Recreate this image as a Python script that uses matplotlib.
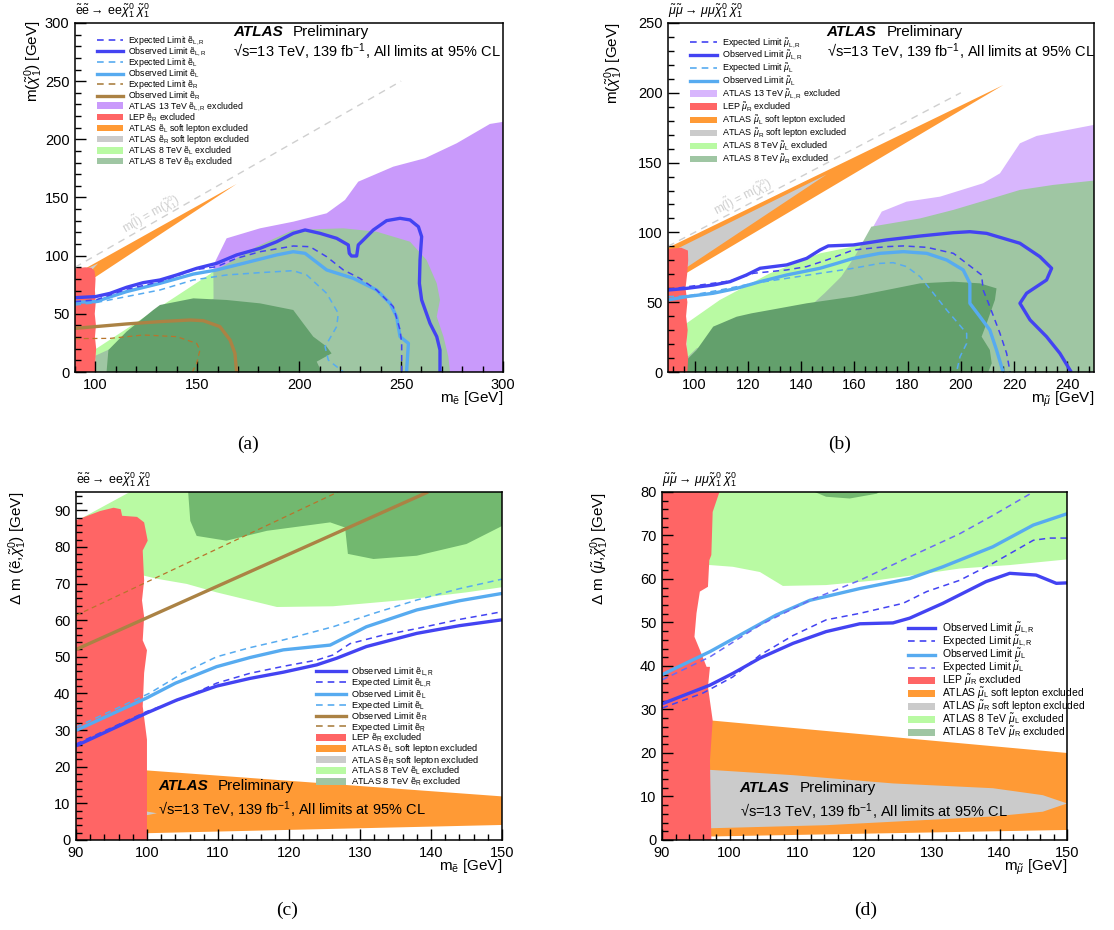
import matplotlib.pyplot as plt
from matplotlib.lines import Line2D
from matplotlib.patches import Patch
from matplotlib.ticker import MultipleLocator

plt.rcParams['font.family'] = ['Liberation Sans', 'DejaVu Sans']
plt.rcParams['mathtext.fontset'] = 'custom'
plt.rcParams['mathtext.rm'] = 'Liberation Sans'
plt.rcParams['mathtext.it'] = 'Liberation Sans:italic'
plt.rcParams['mathtext.bf'] = 'Liberation Sans:bold'

# colours
PURPLE_E = '#c99afb'
PURPLE_MU = '#d8b6fd'
RED = '#ff6565'
ORANGE = '#ff9a35'
GREY = '#cbcbcb'
LGREEN = '#b9faa3'
SAGE = '#9fc6a3'
DGREEN = '#63a06c'
DGREEN_C = '#72b86f'
BLUE = '#4343f2'
LBLUE = '#57abf0'
BLUE_EXP_L = '#6a6af5'
BROWN = '#ab8244'
BROWN_EXP = '#b8742c'
DIAG = '#cfcfcf'

# ---------------- (a) selectrons, m(chi) vs m(e) ----------------
a_diag = [90, 250]
a_red_x = [90, 100.2, 100.0, 100.4, 99.8, 100.3, 99.7, 100.2, 99.8, 100.1, 99.6, 98, 95, 92, 90]
a_red_y = [0, 0, 10, 20, 30, 40, 50, 60, 70, 80, 87, 89.5, 90, 89.5, 89]
a_orange_x = [90, 169.3, 90]
a_orange_y = [70, 161.6, 84]
a_grey_x = [90, 101.4, 90]
a_grey_y = [72, 93.4, 84]
a_purple_x = [158, 158, 164.4, 180.8, 197.1, 213.5, 222.5, 229.0, 246.2, 261.7, 277.3, 293.6, 300, 300]
a_purple_y = [0, 92, 114.9, 123.5, 129.2, 136.4, 147.9, 163.6, 176.5, 183.7, 196.6, 213.2, 215, 0]
a_lgreen_x = [100, 100, 156.3, 158, 175, 200, 210]
a_lgreen_y = [0, 19.5, 84.2, 87, 80, 50, 0]
a_sage_x = [100, 100, 120, 158, 157.9, 179.1, 197.1, 221.7, 238.0, 254.4, 262.5, 267.5, 269.1, 267.5, 270.8, 273.2, 274.0]
a_sage_y = [0, 14, 30, 63, 86.2, 107.7, 122.1, 123.5, 120.6, 112.0, 96.3, 76.2, 61.9, 47.6, 30.4, 13.2, 0]
a_dgreen_x = [105.5, 106.4, 115.3, 128.4, 131.7, 148.1, 164.4, 180.8, 197.1, 202.0, 206.9, 213.5, 215.9, 208.6, 211.0]
a_dgreen_y = [0, 18.9, 34.7, 53.3, 57.6, 63.3, 61.9, 59.0, 53.3, 41.8, 30.4, 21.8, 16.0, 8.9, 0]

a_obs_lr_x = [90, 100.1, 107.2, 115.3, 123.5, 131.7, 139.9, 149.7, 159.5, 169.3, 180.8, 189.0, 197.1, 202.9,
              210.2, 218.4, 224.1, 224.6, 225.7, 228.2, 229.0, 231.5, 236.4, 242.9, 249.5, 254.4, 258.5,
              260.1, 259.3, 259.0, 260.1, 264.2, 267.5, 269.1, 269.1]
a_obs_lr_y = [63.9, 64.8, 67.6, 72.8, 76.8, 79.1, 83.4, 89.1, 93.4, 100.6, 106.3, 112.0, 119.2, 122.1,
              119.2, 114.9, 109.2, 102.0, 99.7, 99.7, 109.2, 113.5, 122.1, 130.1, 132.1, 130.7, 124.9,
              116.3, 96.3, 76.2, 61.9, 41.8, 30.4, 18.9, 0]
a_exp_lr_x = [90, 100.1, 115.3, 131.7, 148.1, 159.5, 169.3, 180.8, 197.1, 205.3, 213.5, 221.7, 229.8,
              238.0, 246.2, 249.5, 250.3, 250.3]
a_exp_lr_y = [60.5, 61.9, 71.1, 77.6, 87.7, 90.5, 97.7, 103.4, 108.3, 107.7, 99.1, 87.7, 80.5,
              70.5, 56.2, 36.1, 24.6, 0]
a_obs_l_x = [90, 100.1, 115.3, 131.7, 148.1, 159.5, 172.6, 188.9, 197.1, 202.9, 213.5, 226.6, 238.0,
             244.6, 247.8, 249.5, 253.6, 252.7]
a_obs_l_y = [59.9, 60.5, 69.1, 76.2, 84.2, 87.7, 93.4, 100.6, 103.4, 102.0, 87.7, 80.5, 70.5,
             59.0, 47.6, 30.4, 24.6, 0]
a_exp_l_x = [90, 100.1, 115.3, 131.7, 148.1, 164.4, 180.8, 197.1, 203.7, 213.5, 219.2, 218.4, 212.7, 214.3, 221.7]
a_exp_l_y = [57.6, 59.6, 64.8, 70.5, 79.1, 83.4, 85.4, 87.1, 83.4, 67.6, 50.4, 39.0, 21.8, 10.3, 0]
a_obs_r_x = [90, 115.3, 131.7, 146.4, 153.0, 161.1, 166.1, 168.5, 169.3]
a_obs_r_y = [37.5, 41.3, 43.3, 44.7, 44.1, 39.0, 27.5, 16.0, 0]
a_exp_r_x = [90, 107.2, 123.5, 139.9, 149.7, 151.3, 149.7, 147.6]
a_exp_r_y = [28.7, 28.9, 31.8, 30.4, 24.6, 18.9, 7.4, 0]

# ---------------- (b) smuons, m(chi) vs m(mu) ----------------
b_diag = [90, 200]
b_red_x = [90, 97.3, 97.6, 96.9, 97.4, 96.8, 97.3, 96.6, 97.2, 97.6, 97.5, 95, 92, 90]
b_red_y = [0, 0, 10, 20, 30, 40, 50, 60, 70, 80, 87, 89, 88.5, 88]
b_orange_x = [90, 216, 90]
b_orange_y = [63, 205.6, 89]
b_grey_x = [90, 149.6, 90]
b_grey_y = [66, 141.5, 85]
b_purple_x = [164, 164.6, 167.1, 170.3, 179.6, 192.2, 208.4, 214.7, 217.2, 222.2, 228.5, 250, 250, 175]
b_purple_y = [90, 94.6, 104.1, 114.9, 122.0, 125.6, 135.2, 142.3, 149.5, 163.8, 169.1, 177, 0, 0]
b_lgreen_x = [97, 97, 109.5, 128.3, 147.1, 159.6, 165, 190, 215]
b_lgreen_y = [0, 34.9, 51.6, 70.7, 85.0, 89.8, 94, 60, 0]
b_sage_x = [97, 97, 100.8, 120, 142.6, 148.8, 155.1, 160.1, 166.4, 184.7, 197.2, 209.7, 222.2, 234.7, 250, 250]
b_sage_y = [0, 10, 17, 28, 45.6, 56.4, 68.3, 82.6, 104.1, 110.0, 116.1, 123.2, 130.4, 134.0, 137.1, 0]
b_dgreen_x = [97, 97, 100.8, 107.0, 110.0, 115.8, 121.3, 128.3, 142.1, 159.6, 172.1, 184.7, 197.2, 207.2,
              213.4, 212.8, 209.7, 207.8, 210.9, 211.6, 210.3]
b_dgreen_y = [0, 8.6, 15.8, 32.5, 34.9, 39.6, 42.0, 44.4, 49.2, 54.0, 58.7, 63.5, 64.7, 63.5,
              59.9, 51.6, 34.9, 25.3, 15.8, 6.2, 0]

b_obs_lr_x = [90, 97.0, 107.0, 113.3, 119.5, 124.6, 129.6, 134.6, 142.1, 147.1, 150.2, 159.6, 172.1, 184.7,
              197.2, 203.4, 209.7, 222.2, 229.7, 234.1, 232.2, 224.7, 222.2, 226.0, 232.2, 237.2, 241.0, 241.5]
b_obs_lr_y = [58.7, 59.9, 62.3, 64.7, 69.5, 74.3, 75.5, 76.7, 81.4, 87.4, 90.3, 91.0, 94.6, 97.4,
              99.8, 100.5, 99.3, 92.2, 82.6, 74.3, 65.9, 56.4, 49.2, 37.3, 25.3, 13.4, 1.4, 0]
b_exp_lr_x = [90, 113.3, 122.1, 134.6, 142.1, 149.6, 159.6, 172.1, 178.4, 187.2, 197.2, 202.2, 207.8,
              208.4, 210.9, 214.7, 217.2, 218.5]
b_exp_lr_y = [59.2, 65.2, 70.7, 73.1, 75.5, 80.2, 87.4, 89.8, 90.3, 89.3, 85.0, 77.8, 69.5,
              58.7, 46.8, 27.7, 13.4, 0]
b_obs_l_x = [90, 97.0, 107.0, 115.8, 124.6, 134.6, 147.1, 153.4, 159.6, 169.6, 178.4, 187.2, 194.7,
             200.9, 203.4, 203.4, 207.2, 210.9, 213.4, 215.9]
b_obs_l_y = [51.6, 54.0, 56.4, 59.9, 64.7, 69.5, 74.3, 77.8, 81.4, 85.0, 86.2, 85.0, 80.2,
             73.1, 63.5, 49.2, 39.6, 30.1, 15.8, 0]
b_exp_l_x = [90, 97.0, 109.5, 122.1, 134.6, 147.1, 159.6, 169.6, 174.6, 179.6, 184.7, 189.7, 194.7,
             202.2, 202.2, 199.7, 198.4]
b_exp_l_y = [54.0, 54.4, 58.7, 63.5, 67.1, 70.7, 74.3, 77.8, 78.3, 75.5, 68.3, 56.4, 44.4,
             27.7, 20.5, 11.0, 0]

# ---------------- (c) selectrons, delta m vs m(e) ----------------
c_red_x = [90, 100, 100, 100, 99.4, 99.6, 100, 99.4, 99.6, 99.3, 99.6, 99.4, 100.1, 99.6, 98.6, 96.5,
           96.3, 95.3, 93.4, 90]
c_red_y = [0, 0, 18.2, 27.4, 36.5, 45.6, 51.8, 54.5, 60.9, 65.4, 70.8, 79.0, 81.7, 86.7, 88.2, 88.5,
           90.3, 90.7, 89.8, 87.3]
c_orange_x = [90, 150, 150, 90]
c_orange_y = [20.4, 11.9, 4.1, 1.4]
c_grey_x = [90, 101.4, 90]
c_grey_y = [3, 7.3, 11]
c_lgreen_x = [90, 97.6, 150, 150, 145.0, 135.6, 126.2, 118.3, 114.5, 109.8, 105.6, 101.4, 99.5, 90]
c_lgreen_y = [87, 95, 95, 69.0, 67.6, 65.4, 63.8, 63.6, 65.4, 67.6, 69.9, 71.3, 72.2, 72]
c_dgreen_x = [105.8, 106.1, 107.0, 111.2, 116.9, 125.8, 127.9, 128.3, 131.9, 138.0, 145.0, 150, 150]
c_dgreen_y = [95, 87.1, 83.0, 81.7, 84.4, 86.7, 85.3, 78.1, 76.7, 77.6, 80.8, 85.7, 95]

c_obs_lr_x = [90, 100, 104.2, 109.8, 114.5, 119.2, 123.9, 126.7, 130.9, 138, 144, 150]
c_obs_lr_y = [25.7, 34.7, 38.2, 42.0, 44.1, 45.8, 47.8, 49.6, 52.8, 56.4, 58.5, 60.1]
c_exp_lr_x = [90, 100, 105.1, 109.8, 114.5, 119.2, 123.9, 126.2, 128.6, 133, 138, 144, 150]
c_exp_lr_y = [26.2, 35.1, 38.7, 42.8, 45.5, 47.4, 49.1, 50.5, 53.6, 55.8, 57.7, 60.2, 62.3]
c_obs_l_x = [90, 100, 104, 109.8, 114.5, 119.2, 125.8, 130.9, 138, 144, 150]
c_obs_l_y = [29.9, 38.8, 42.8, 47.3, 49.8, 51.9, 53.2, 58.2, 62.8, 65.3, 67.3]
c_exp_l_x = [90, 100.4, 105.1, 109.8, 114.5, 119.2, 126.2, 132, 138, 144, 150]
c_exp_l_y = [30.8, 40.1, 45.6, 50.0, 52.5, 54.6, 58.2, 61.9, 65.5, 68.6, 71.2]
c_obs_r_x = [90, 139.6]
c_obs_r_y = [52, 95]
c_exp_r_x = [90, 126.9]
c_exp_r_y = [61.3, 95]

# ---------------- (d) smuons, delta m vs m(mu) ----------------
d_red_x = [90, 97.3, 97.1, 97.5, 96.8, 97.1, 96.6, 95.6, 94.8, 95.1, 95.6, 96.8, 97.0, 97.3, 97.5, 98.5, 90]
d_red_y = [0, 0, 18.3, 27.5, 35.2, 39.8, 39.8, 43.7, 46.7, 52.1, 57.1, 58.2, 64.3, 65.5, 75.4, 80, 80]
d_orange_x = [90, 150, 150, 90]
d_orange_y = [28.5, 20.0, 2.3, 0.6]
d_grey_x = [90, 97.3, 109.4, 124.2, 139.0, 146.4, 150, 146.4, 139.0, 129.2, 114.3, 97.3, 90]
d_grey_y = [16.5, 16.1, 14.9, 13.0, 11.9, 10.3, 8.4, 6.5, 5.4, 4.6, 3.4, 2.7, 2.6]
d_lgreen_x = [90, 150, 150, 141.5, 134.1, 129.2, 121.8, 114.3, 107.9, 104.5, 100.5, 97.1, 90]
d_lgreen_y = [80, 80, 64.5, 63.2, 62.4, 61.3, 59.7, 58.6, 58.4, 61.6, 62.8, 63.2, 63]
d_dgreen_x = [112.6, 114.3, 117.8, 121.8, 122.2]
d_dgreen_y = [80, 78.9, 78.5, 79.6, 80]

d_obs_lr_x = [90, 97.1, 100.5, 104.5, 109.4, 114.3, 119.3, 124.2, 126.7, 131.6, 138, 141.5, 145.4, 148.4, 150]
d_obs_lr_y = [31.3, 35.6, 38.3, 41.8, 45.2, 47.9, 49.7, 49.9, 51.0, 54.4, 59.4, 61.3, 60.9, 59.0, 59.1]
d_exp_lr_x = [90, 96.1, 100.5, 104.5, 109.4, 114.3, 119.3, 125.7, 129.2, 134.1, 139, 145, 147.4, 150]
d_exp_lr_y = [30.3, 33.8, 37.5, 42.5, 47.0, 50.6, 52.1, 54.4, 57.1, 59.7, 63.6, 68.9, 69.4, 69.4]
d_obs_l_x = [90, 97.1, 102, 106.9, 111.9, 119.3, 126.7, 131.6, 139, 145, 150]
d_obs_l_y = [38.0, 43.3, 47.5, 51.7, 55.1, 57.8, 60.1, 62.8, 67.4, 72.4, 75.0]
d_exp_l_x = [90, 97.1, 104.5, 111.9, 119.3, 126.7, 134.1, 139, 145]
d_exp_l_y = [36.8, 42.1, 49.4, 55.1, 59.7, 65.1, 70.4, 74.6, 80]


def el(s):
    # selectron symbol with a small subscript
    return 'ẽ$_{\\mathrm{' + s + '}}$'


def mu(s):
    return '$\\tilde{\\mu}_{\\mathrm{' + s + '}}$'


def fill(ax, xs, ys, color):
    ax.fill(xs, ys, color=color, lw=0)


def obs(ax, xs, ys, color):
    ax.plot(xs, ys, color=color, lw=2.4, solid_capstyle='butt')


def exp(ax, xs, ys, color, lw=1.1):
    ax.plot(xs, ys, color=color, lw=lw, dashes=(4, 3))


def line_h(color, dashed=False):
    if dashed:
        return Line2D([], [], color=color, lw=1.2, dashes=(4, 3))
    return Line2D([], [], color=color, lw=2.4)


def patch_h(color):
    return Patch(facecolor=color, edgecolor='none')


def style(ax, xlim, ylim, xmaj, xmin, ymaj, ymin):
    ax.set_xlim(*xlim)
    ax.set_ylim(*ylim)
    ax.xaxis.set_major_locator(MultipleLocator(xmaj))
    ax.xaxis.set_minor_locator(MultipleLocator(xmin))
    ax.yaxis.set_major_locator(MultipleLocator(ymaj))
    ax.yaxis.set_minor_locator(MultipleLocator(ymin))
    ax.tick_params(which='both', direction='in', top=False, right=False, labelsize=10.5, width=1)
    ax.tick_params(which='major', length=8, pad=4)
    ax.tick_params(which='minor', length=4)
    for sp in ax.spines.values():
        sp.set_linewidth(1.1)
        sp.set_zorder(10)


def atlas(ax, x, y, coords='axes'):
    tr = ax.transAxes if coords == 'axes' else ax.transData
    ax.text(x, y, 'ATLAS', transform=tr, fontsize=11, fontweight='bold', fontstyle='italic',
            va='center', ha='left', zorder=12)
    ax.annotate('Preliminary', xy=(x, y), xycoords=tr, xytext=(43, 0), textcoords='offset points',
                fontsize=11, va='center', ha='left', zorder=12)


def legend(ax, hand, labs, anchor, fs, spacing, hl=3.0, pad=0.5):
    ax.legend(hand, labs, loc='upper left', bbox_to_anchor=anchor, frameon=False, fontsize=fs,
              handlelength=hl, handleheight=0.75, labelspacing=spacing, borderpad=0,
              handletextpad=pad, borderaxespad=0)


fig = plt.figure(figsize=(11.14, 9.30), dpi=100)
ax_a = fig.add_axes([0.0673, 0.6, 0.3842, 0.3753])
ax_b = fig.add_axes([0.5996, 0.6, 0.3824, 0.3753])
ax_c = fig.add_axes([0.0682, 0.0968, 0.3824, 0.3742])
ax_d = fig.add_axes([0.5943, 0.0968, 0.3636, 0.3742])

sqrt_txt = '√s=13 TeV, 139 fb$^{-1}$, All limits at 95% CL'
proc_e = r'$\tilde{\mathrm{e}}\tilde{\mathrm{e}}\rightarrow\,\mathrm{ee}\tilde{\chi}_1^0\ \tilde{\chi}_1^0$'
proc_mu = r'$\tilde{\mu}\tilde{\mu}\rightarrow\,\mu\mu\tilde{\chi}_1^0\ \tilde{\chi}_1^0$'
diag_txt = r'm($\tilde{\mathrm{l}}$) = m($\tilde{\chi}_1^0$)'

# ---- panel (a)
ax = ax_a
fill(ax, a_purple_x, a_purple_y, PURPLE_E)
fill(ax, a_lgreen_x, a_lgreen_y, LGREEN)
fill(ax, a_sage_x, a_sage_y, SAGE)
fill(ax, a_dgreen_x, a_dgreen_y, DGREEN)
fill(ax, a_orange_x, a_orange_y, ORANGE)
fill(ax, a_grey_x, a_grey_y, GREY)
fill(ax, a_red_x, a_red_y, RED)
ax.plot(a_diag, a_diag, color=DIAG, lw=1, dashes=(5, 4))
ax.text(127, 136, diag_txt, color=DIAG, fontsize=8.5,
        rotation=45, transform_rotates_text=True, rotation_mode='anchor', ha='center', va='center')
exp(ax, a_exp_r_x, a_exp_r_y, BROWN_EXP, lw=0.9)
obs(ax, a_obs_r_x, a_obs_r_y, BROWN)
exp(ax, a_exp_l_x, a_exp_l_y, LBLUE)
obs(ax, a_obs_l_x, a_obs_l_y, LBLUE)
exp(ax, a_exp_lr_x, a_exp_lr_y, BLUE)
obs(ax, a_obs_lr_x, a_obs_lr_y, BLUE)
style(ax, (90, 300), (0, 300), 50, 10, 50, 10)
hand = [line_h(BLUE, True), line_h(BLUE), line_h(LBLUE, True), line_h(LBLUE), line_h(BROWN, True), line_h(BROWN),
        patch_h(PURPLE_E), patch_h(RED), patch_h(ORANGE), patch_h(GREY), patch_h(LGREEN), patch_h(SAGE)]
labs = ['Expected Limit ' + el('L,R'), 'Observed Limit ' + el('L,R'),
        'Expected Limit ' + el('L'), 'Observed Limit ' + el('L'),
        'Expected Limit ' + el('R'), 'Observed Limit ' + el('R'),
        'ATLAS 13 TeV ' + el('L,R') + ' excluded', 'LEP ' + el('R') + ' excluded',
        'ATLAS ' + el('L') + ' soft lepton excluded', 'ATLAS ' + el('R') + ' soft lepton excluded',
        'ATLAS 8 TeV ' + el('L') + ' excluded', 'ATLAS 8 TeV ' + el('R') + ' excluded']
legend(ax, hand, labs, (0.052, 0.966), 6.3, -0.2)
atlas(ax, 0.369, 0.974)
ax.text(0.369, 0.917, sqrt_txt, transform=ax.transAxes, fontsize=10.5, va='center', ha='left')
ax.text(0.0, 1.008, proc_e, transform=ax.transAxes, fontsize=9, va='bottom', ha='left')
ax.text(-0.097, 1.008, r'm($\tilde{\chi}_1^0$) [GeV]', transform=ax.transAxes, fontsize=11,
        rotation=90, ha='center', va='top')
ax.text(1.0, -0.05, 'm$_{\\mathrm{ẽ}}$ [GeV]', transform=ax.transAxes, fontsize=11, ha='right', va='top')

# ---- panel (b)
ax = ax_b
fill(ax, b_purple_x, b_purple_y, PURPLE_MU)
fill(ax, b_lgreen_x, b_lgreen_y, LGREEN)
fill(ax, b_sage_x, b_sage_y, SAGE)
fill(ax, b_dgreen_x, b_dgreen_y, DGREEN)
fill(ax, b_orange_x, b_orange_y, ORANGE)
fill(ax, b_grey_x, b_grey_y, GREY)
fill(ax, b_red_x, b_red_y, RED)
ax.plot(b_diag, b_diag, color=DIAG, lw=1, dashes=(5, 4))
ax.text(118, 126, diag_txt, color=DIAG, fontsize=8.5,
        rotation=45, transform_rotates_text=True, rotation_mode='anchor', ha='center', va='center')
exp(ax, b_exp_l_x, b_exp_l_y, LBLUE)
obs(ax, b_obs_l_x, b_obs_l_y, LBLUE)
exp(ax, b_exp_lr_x, b_exp_lr_y, BLUE)
obs(ax, b_obs_lr_x, b_obs_lr_y, BLUE)
style(ax, (90, 250), (0, 250), 20, 4, 50, 10)
hand = [line_h(BLUE, True), line_h(BLUE), line_h(LBLUE, True), line_h(LBLUE),
        patch_h(PURPLE_MU), patch_h(RED), patch_h(ORANGE), patch_h(GREY), patch_h(LGREEN), patch_h(SAGE)]
labs = ['Expected Limit ' + mu('L,R'), 'Observed Limit ' + mu('L,R'),
        'Expected Limit ' + mu('L'), 'Observed Limit ' + mu('L'),
        'ATLAS 13 TeV ' + mu('L,R') + ' excluded', 'LEP ' + mu('R') + ' excluded',
        'ATLAS ' + mu('L') + ' soft lepton excluded', 'ATLAS ' + mu('R') + ' soft lepton excluded',
        'ATLAS 8 TeV ' + mu('L') + ' excluded', 'ATLAS 8 TeV ' + mu('R') + ' excluded']
legend(ax, hand, labs, (0.052, 0.962), 6.5, -0.08)
atlas(ax, 0.3725, 0.974)
ax.text(0.3725, 0.917, sqrt_txt, transform=ax.transAxes, fontsize=10.5, va='center', ha='left')
ax.text(0.0, 1.008, proc_mu, transform=ax.transAxes, fontsize=9, va='bottom', ha='left')
ax.text(-0.127, 1.003, r'm($\tilde{\chi}_1^0$) [GeV]', transform=ax.transAxes, fontsize=11,
        rotation=90, ha='center', va='top')
ax.text(1.0, -0.05, r'm$_{\tilde{\mu}}$ [GeV]', transform=ax.transAxes, fontsize=11, ha='right', va='top')

# ---- panel (c)
ax = ax_c
fill(ax, c_lgreen_x, c_lgreen_y, LGREEN)
fill(ax, c_dgreen_x, c_dgreen_y, DGREEN_C)
fill(ax, c_orange_x, c_orange_y, ORANGE)
fill(ax, c_grey_x, c_grey_y, GREY)
fill(ax, c_red_x, c_red_y, RED)
exp(ax, c_exp_r_x, c_exp_r_y, BROWN_EXP, lw=0.9)
obs(ax, c_obs_r_x, c_obs_r_y, BROWN)
exp(ax, c_exp_l_x, c_exp_l_y, LBLUE)
obs(ax, c_obs_l_x, c_obs_l_y, LBLUE)
exp(ax, c_exp_lr_x, c_exp_lr_y, BLUE)
obs(ax, c_obs_lr_x, c_obs_lr_y, BLUE)
style(ax, (90, 150), (0, 95), 10, 2, 10, 2)
hand = [line_h(BLUE), line_h(BLUE, True), line_h(LBLUE), line_h(LBLUE, True), line_h(BROWN), line_h(BROWN, True),
        patch_h(RED), patch_h(ORANGE), patch_h(GREY), patch_h(LGREEN), patch_h(SAGE)]
labs = ['Observed Limit ' + el('L,R'), 'Expected Limit ' + el('L,R'),
        'Observed Limit ' + el('L'), 'Expected Limit ' + el('L'),
        'Observed Limit ' + el('R'), 'Expected Limit ' + el('R'),
        'LEP ' + el('R') + ' excluded',
        'ATLAS ' + el('L') + ' soft lepton excluded', 'ATLAS ' + el('R') + ' soft lepton excluded',
        'ATLAS 8 TeV ' + el('L') + ' excluded', 'ATLAS 8 TeV ' + el('R') + ' excluded']
legend(ax, hand, labs, (0.563, 0.5), 6.7, -0.2, hl=3.2, pad=0.6)
atlas(ax, 101.6, 14.6, coords='data')
ax.text(101.6, 8.2, sqrt_txt, fontsize=10.5, va='center', ha='left')
ax.text(0.0, 1.008, proc_e, transform=ax.transAxes, fontsize=9, va='bottom', ha='left')
ax.text(-0.136, 1.0, r'$\Delta$ m (ẽ,$\tilde{\chi}_1^0$) [GeV]', transform=ax.transAxes,
        fontsize=11, rotation=90, ha='center', va='top')
ax.text(1.0, -0.05, 'm$_{\\mathrm{ẽ}}$ [GeV]', transform=ax.transAxes, fontsize=11, ha='right', va='top')

# ---- panel (d)
ax = ax_d
fill(ax, d_lgreen_x, d_lgreen_y, LGREEN)
fill(ax, d_dgreen_x, d_dgreen_y, DGREEN_C)
fill(ax, d_orange_x, d_orange_y, ORANGE)
fill(ax, d_grey_x, d_grey_y, GREY)
fill(ax, d_red_x, d_red_y, RED)
obs(ax, d_obs_l_x, d_obs_l_y, LBLUE)
exp(ax, d_exp_l_x, d_exp_l_y, BLUE_EXP_L)
exp(ax, d_exp_lr_x, d_exp_lr_y, BLUE)
obs(ax, d_obs_lr_x, d_obs_lr_y, BLUE)
style(ax, (90, 150), (0, 80), 10, 2, 10, 2)
hand = [line_h(BLUE), line_h(BLUE, True), line_h(LBLUE), line_h(BLUE_EXP_L, True),
        patch_h(RED), patch_h(ORANGE), patch_h(GREY), patch_h(LGREEN), patch_h(SAGE)]
labs = ['Observed Limit ' + mu('L,R'), 'Expected Limit ' + mu('L,R'),
        'Observed Limit ' + mu('L'), 'Expected Limit ' + mu('L'),
        'LEP ' + mu('R') + ' excluded',
        'ATLAS ' + mu('L') + ' soft lepton excluded', 'ATLAS ' + mu('R') + ' soft lepton excluded',
        'ATLAS 8 TeV ' + mu('L') + ' excluded', 'ATLAS 8 TeV ' + mu('R') + ' excluded']
legend(ax, hand, labs, (0.607, 0.63), 7.5, -0.2, hl=2.6, pad=0.7)
atlas(ax, 101.5, 12.0, coords='data')
ax.text(101.5, 6.5, sqrt_txt, fontsize=10.5, va='center', ha='left')
ax.text(0.0, 1.008, proc_mu, transform=ax.transAxes, fontsize=9, va='bottom', ha='left')
ax.text(-0.153, 1.0, r'$\Delta$ m ($\tilde{\mu}$,$\tilde{\chi}_1^0$) [GeV]', transform=ax.transAxes,
        fontsize=11, rotation=90, ha='center', va='top')
ax.text(1.0, -0.05, r'm$_{\tilde{\mu}}$ [GeV]', transform=ax.transAxes, fontsize=11, ha='right', va='top')

# sub-figure captions
for x, y, t in [(0.2226, 0.5226, '(a)'), (0.754, 0.5226, '(b)'), (0.2576, 0.0215, '(c)'), (0.7774, 0.0215, '(d)')]:
    fig.text(x, y, t, fontsize=14, family=['Liberation Serif', 'DejaVu Serif'], ha='center', va='center')

fig.savefig('out.png', dpi=100)
